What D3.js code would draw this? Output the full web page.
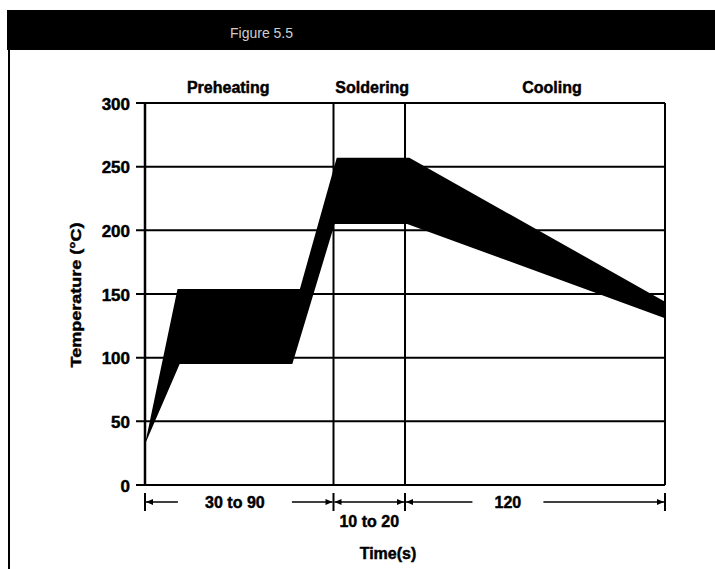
<!DOCTYPE html>
<html>
<head>
<meta charset="utf-8">
<script src="https://cdn.jsdelivr.net/npm/d3@7/dist/d3.min.js"></script>
<style>
  html, body { margin: 0; padding: 0; background: #fff; }
  svg { display: block; }
  text { font-family: "Liberation Sans", Arial, sans-serif; font-weight: 700; fill: #000; }
  text.heavy { stroke: #000; stroke-width: 0.45px; }
</style>
</head>
<body>
<svg id="chart" width="715" height="569"></svg>
<script>
// Reflow soldering temperature profile
const phaseNames = ["Preheating", "Soldering", "Cooling"];
const phaseStart = [0, 87, 120];          // s
const phaseEnd = [87, 120, 240];          // s
const durationLabels = ["30 to 90", "10 to 20", "120"];
const tempTicks = [0, 50, 100, 150, 200, 250, 300];

// Upper and lower limits of the allowed temperature band
const upperTime = [0, 15, 71.5, 88.5, 122, 240];
const upperTemp = [32, 154, 154, 257, 257, 144];
const lowerTime = [0, 16, 68, 87.5, 121, 240];
const lowerTemp = [32, 95, 95, 205, 205, 131];

const svg = d3.select("#chart");
const W = 715, H = 569;

const x = d3.scaleLinear().domain([0, 240]).range([145, 665]);
const y = d3.scaleLinear().domain([0, 300]).range([485, 103]);

// Frame: title bar and left rule
svg.append("rect").attr("x", 7).attr("y", 10).attr("width", W - 7).attr("height", 40).attr("fill", "#000");
svg.append("text").attr("x", 230).attr("y", 38)
  .style("font-weight", 400).style("font-size", "14px").style("fill", "#cfcfcf")
  .text("Figure 5.5");
svg.append("line").attr("x1", 9).attr("x2", 9).attr("y1", 50).attr("y2", H)
  .attr("stroke", "#000").attr("stroke-width", 2);

// Temperature band
const upperPts = upperTime.map((t, i) => [t, upperTemp[i]]);
const lowerPts = lowerTime.map((t, i) => [t, lowerTemp[i]]).reverse();
const bandLine = d3.line().x(d => x(d[0])).y(d => y(d[1]));
svg.append("path")
  .attr("d", bandLine(upperPts.concat(lowerPts)) + "Z")
  .attr("fill", "#000");

// Horizontal grid lines with outward ticks
const grid = svg.append("g");
grid.selectAll("line.h").data(tempTicks).join("line")
  .attr("class", "h")
  .attr("x1", x(0) - 9).attr("x2", x(240))
  .attr("y1", d => y(d)).attr("y2", d => y(d))
  .attr("stroke", "#000").attr("stroke-width", 2);

// Phase boundaries and frame verticals
const bounds = [phaseStart[0]].concat(phaseEnd);
grid.selectAll("line.v").data(bounds).join("line")
  .attr("class", "v")
  .attr("x1", d => x(d)).attr("x2", d => x(d))
  .attr("y1", y(300)).attr("y2", y(0))
  .attr("stroke", "#000").attr("stroke-width", (d, i) => i === 0 ? 2.5 : 2);

// Y axis labels
const yAxis = d3.axisLeft(y).tickValues(tempTicks).tickSize(9).tickPadding(6).tickFormat(d3.format("d"));
const ya = svg.append("g").attr("transform", `translate(${x(0)},0)`).call(yAxis);
ya.select(".domain").remove();
ya.selectAll(".tick line").remove();
ya.selectAll(".tick text").attr("class", "heavy").style("font-size", "17px").attr("dy", "0.36em")
  .style("font-family", "'Liberation Sans', Arial, sans-serif").style("font-weight", 700)
  .attr("fill", "#000");

svg.append("text")
  .attr("class", "heavy")
  .attr("transform", `translate(81,295) rotate(-90)`)
  .attr("text-anchor", "middle")
  .style("font-size", "15px")
  .attr("textLength", 145).attr("lengthAdjust", "spacingAndGlyphs")
  .text("Temperature (°C)");

// Phase titles
const titleShift = [-11, 3, 17];
svg.selectAll("text.phase").data(phaseNames).join("text")
  .attr("class", "phase heavy")
  .attr("x", (d, i) => x((phaseStart[i] + phaseEnd[i]) / 2) + titleShift[i])
  .attr("y", 93)
  .attr("text-anchor", "middle")
  .style("font-size", "16px")
  .text(d => d);

// Duration dimension line
const dimY = 502;
const dim = svg.append("g").attr("stroke", "#000").attr("fill", "#000");
bounds.forEach(t => {
  dim.append("line").attr("x1", x(t)).attr("x2", x(t)).attr("y1", dimY - 9).attr("y2", dimY + 9)
    .attr("stroke-width", 2);
});
function arrow(px, dir) {
  // dir = -1 points left, +1 points right
  dim.append("path")
    .attr("d", `M${px},${dimY} L${px - dir * 7},${dimY - 3} L${px - dir * 7},${dimY + 3}Z`)
    .attr("stroke", "none");
}
const labelCenter = [x(41.5), x(103.5), x(167.5)];
const labelGap = [57, 0, 35.5];
phaseNames.forEach((p, i) => {
  const a = x(phaseStart[i]) + 1, b = x(phaseEnd[i]) - 1;
  if (labelGap[i] > 0) {
    dim.append("line").attr("x1", a).attr("x2", labelCenter[i] - labelGap[i]).attr("y1", dimY).attr("y2", dimY).attr("stroke-width", 1.5);
    dim.append("line").attr("x1", labelCenter[i] + labelGap[i]).attr("x2", b).attr("y1", dimY).attr("y2", dimY).attr("stroke-width", 1.5);
  } else {
    dim.append("line").attr("x1", a).attr("x2", b).attr("y1", dimY).attr("y2", dimY).attr("stroke-width", 1.5);
  }
  arrow(a, -1);
  arrow(b, 1);
});

svg.selectAll("text.dur").data(durationLabels).join("text")
  .attr("class", "dur heavy")
  .attr("x", (d, i) => labelCenter[i])
  .attr("y", (d, i) => labelGap[i] > 0 ? dimY + 6 : dimY + 25)
  .attr("text-anchor", "middle")
  .style("font-size", "16px")
  .text(d => d);

svg.append("text")
  .attr("class", "heavy")
  .attr("x", 388).attr("y", 559)
  .attr("text-anchor", "middle")
  .style("font-size", "16px")
  .text("Time(s)");
</script>
</body>
</html>
